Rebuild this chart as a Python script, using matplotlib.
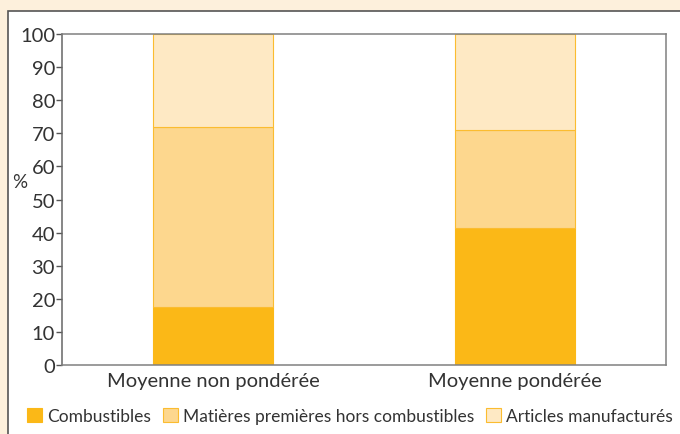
import matplotlib
matplotlib.use('Agg')
import matplotlib.pyplot as plt
from matplotlib.patches import Rectangle, Patch

plt.rcParams['font.family'] = ['Lato', 'DejaVu Sans']

categories = ['Moyenne non pondérée', 'Moyenne pondérée']
combustibles = [17.5, 41.5]
matieres = [54.5, 29.5]
articles = [28.0, 29.0]
series_names = ['Combustibles', 'Matières premières hors combustibles', 'Articles manufacturés']
colors = ['#fbb817', '#fdd78e', '#fee9c4']
edge = '#fbbc30'

fig = plt.figure(figsize=(6.8, 4.35), dpi=100, facecolor='#fdf0dc')
fig.patches.append(Rectangle((8 / 680, -0.01), 1.0, 1 - 12 / 435 + 0.01, transform=fig.transFigure,
                             facecolor='white', edgecolor='#555555', linewidth=1.2, zorder=-5))

ax = fig.add_axes([62 / 680, 1 - 366 / 435, 604 / 680, 331 / 435])
ax.set_zorder(2)
x = [0, 1]
bottoms2 = [a + b for a, b in zip(combustibles, matieres)]
ax.bar(x, combustibles, width=0.4, color=colors[0], edgecolor=colors[0], linewidth=0.8)
ax.bar(x, matieres, width=0.4, bottom=combustibles, color=colors[1], edgecolor=edge, linewidth=0.8)
ax.bar(x, articles, width=0.4, bottom=bottoms2, color=colors[2], edgecolor=edge, linewidth=0.8)

ax.set_xlim(-0.5, 1.5)
ax.set_ylim(0, 100)
ax.set_yticks(range(0, 101, 10))
ax.set_xticks(x)
ax.set_xticklabels(categories)
ax.tick_params(axis='x', length=0, pad=5, labelsize=14.5, labelcolor='#333333')
ax.tick_params(axis='y', length=4, width=1, color='#555555', pad=1, labelsize=14.5, labelcolor='#333333')
for s in ax.spines.values():
    s.set_color('#808080')
    s.set_linewidth(1.1)
ax.spines['left'].set_color('#666666')

fig.text(12 / 680, 1 - 183 / 435, '%', fontsize=13.5, color='#333333', va='center', ha='left')

handles = [Patch(facecolor=c, edgecolor=edge if i else c, linewidth=0.8) for i, c in enumerate(colors)]
fig.legend(handles, series_names, loc='center left', bbox_to_anchor=(27 / 680, 1 - 417 / 435),
           ncol=3, frameon=False, fontsize=12.5, handlelength=0.85, handleheight=0.85,
           handletextpad=0.3, columnspacing=0.7, borderpad=0, borderaxespad=0,
           labelcolor='#333333')

fig.savefig('out.png', dpi=100, facecolor=fig.get_facecolor())
